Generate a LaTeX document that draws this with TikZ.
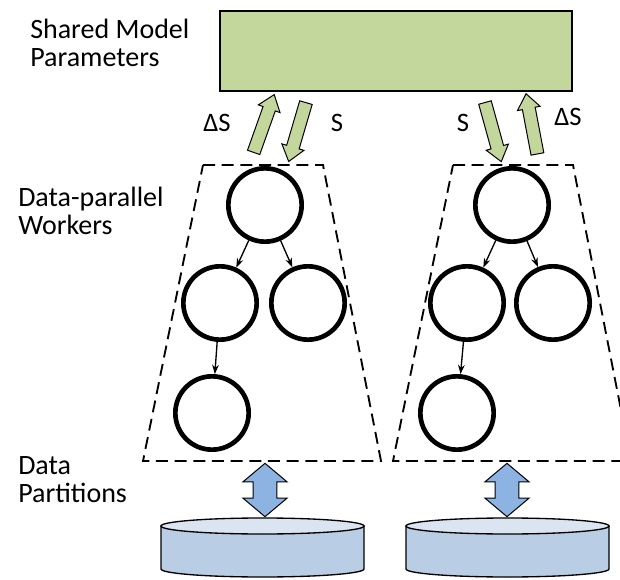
\documentclass[tikz,border=0pt]{standalone}
\usepackage{fontspec}
\setmainfont{Carlito}
\usepackage{tikz}
\usetikzlibrary{shapes,shapes.arrows,arrows,arrows.meta}
\definecolor{paramgreen}{HTML}{C3D69B}
\definecolor{diskside}{HTML}{B9CDE5}
\definecolor{disktop}{HTML}{DBE5F1}
\definecolor{ioblue}{HTML}{8DB3E2}
\tikzset{
	workernode/.style={circle, draw=black, line width=3.5pt, minimum size=55pt, inner sep=0pt},
	treearrow/.style={-{Stealth[length=7pt, width=5pt]}, line width=1pt},
	gradarrow/.style={single arrow, draw=black, fill=paramgreen, line width=0.75pt, inner xsep=0pt, inner ysep=4.5pt, minimum height=46pt, single arrow head extend=3.75pt, single arrow tip angle=75},
	ioarrow/.style={double arrow, draw=black, fill=ioblue, line width=0.75pt, inner xsep=0pt, inner ysep=8.6pt, minimum height=40pt, double arrow head extend=7.5pt, double arrow tip angle=100},
	framebox/.style={dash pattern=on 9pt off 5pt, line width=1.4pt},
	disk/.style={draw=black, line width=1pt},
	sidelabel/.style={font=\fontsize{21}{21}\selectfont, align=left, anchor=west, inner sep=0pt},
	updlabel/.style={font=\fontsize{20}{20}\selectfont, inner sep=0pt}
}

\begin{document}
\begin{tikzpicture}[x=0.75pt, y=-0.75pt]
	\clip (0,0) rectangle (620,580);
	
	% labels on the left
	\node[sidelabel] (lblparams) at (30,43) {Shared Model\\Parameters};
	\node[sidelabel] (lblworkers) at (18,211) {Data-parallel\\Workers};
	\node[sidelabel] (lbldata) at (18,480) {Data\\Partitions};
	
	% parameter server
	\draw[fill=paramgreen, line width=1.2pt] (220,11) rectangle (572,91);
	
	% worker frames
	\draw[framebox] (203,165) -- (323,165) -- (381,461) -- (143,461) -- cycle;
	\draw[framebox] (453,165) -- (573,165) -- (631,461) -- (393,461) -- cycle;
	
	% workers, left
	\node[workernode] (lroot) at (265,205) {};
	\node[workernode] (lmidl) at (220,303) {};
	\node[workernode] (lmidr) at (308,303) {};
	\node[workernode] (lbot) at (212,413) {};
	\draw[treearrow] (lroot) -- (lmidl);
	\draw[treearrow] (lroot) -- (lmidr);
	\draw[treearrow] (lmidl) -- (lbot);
	
	% workers, right
	\node[workernode] (rroot) at (512,205) {};
	\node[workernode] (rmidl) at (467,303) {};
	\node[workernode] (rmidr) at (553,303) {};
	\node[workernode] (rbot) at (457,413) {};
	\draw[treearrow] (rroot) -- (rmidl);
	\draw[treearrow] (rroot) -- (rmidr);
	\draw[treearrow] (rmidl) -- (rbot);
	
	% updates to and from the parameters
	\coordinate (lupfrom) at (252,157);
	\coordinate (lupto) at (273,98);
	\coordinate (ldownfrom) at (307,99);
	\coordinate (ldownto) at (290,157);
	\coordinate (rdownfrom) at (484,99);
	\coordinate (rdownto) at (500,157);
	\coordinate (rupfrom) at (538,157);
	\coordinate (rupto) at (527,99);
	\path (lupfrom) -- (lupto) node[midway, sloped, allow upside down, gradarrow] (lup) {};
	\path (ldownfrom) -- (ldownto) node[midway, sloped, allow upside down, gradarrow] (ldown) {};
	\path (rdownfrom) -- (rdownto) node[midway, sloped, allow upside down, gradarrow] (rdown) {};
	\path (rupfrom) -- (rupto) node[midway, sloped, allow upside down, gradarrow] (rup) {};
	\node[updlabel] (lbldsl) at (217,123) {ΔS};
	\node[updlabel] (lblsl) at (337,123) {S};
	\node[updlabel] (lblsr) at (463,123) {S};
	\node[updlabel] (lbldsr) at (568,117) {ΔS};
	
	% data partitions
	\draw[disk, fill=diskside] (161,526) -- (161,569) arc[start angle=180, end angle=0, x radius=101.5, y radius=8] -- (364,526) -- cycle;
	\draw[disk, fill=disktop] (262.5,526) ellipse[x radius=101.5, y radius=8];
	\draw[disk, fill=diskside] (406,526) -- (406,569) arc[start angle=180, end angle=0, x radius=101.5, y radius=8] -- (609,526) -- cycle;
	\draw[disk, fill=disktop] (507.5,526) ellipse[x radius=101.5, y radius=8];
	
	\coordinate (liotop) at (265,463);
	\coordinate (liobot) at (265,517);
	\coordinate (riotop) at (507,463);
	\coordinate (riobot) at (507,517);
	\path (liotop) -- (liobot) node[midway, sloped, ioarrow] (lio) {};
	\path (riotop) -- (riobot) node[midway, sloped, ioarrow] (rio) {};
\end{tikzpicture}
\end{document}
